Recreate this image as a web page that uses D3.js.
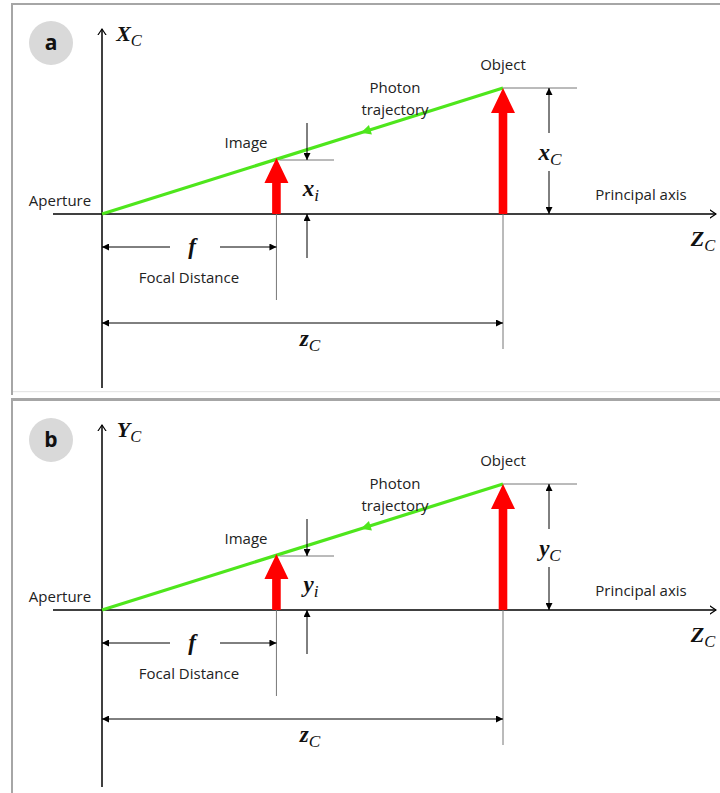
<!DOCTYPE html>
<html>
<head>
<meta charset="utf-8">
<script src="https://cdn.jsdelivr.net/npm/d3@7"></script>
<style>
  body{margin:0;background:#fff}
  .lbl{font-family:"Open Sans",sans-serif;font-size:15px;fill:#222}
  .math{font-family:"Liberation Serif",serif;font-style:italic;font-weight:bold;fill:#111}
</style>
</head>
<body>
<div id="chart"></div>
<script>
// panels and their symbols
const panelNames = ['a', 'b']
const axisNames = ['X', 'Y']
const heightNames = ['x', 'y']

// geometry values (z along principal axis, height above it)
const focalDistance = 1.74
const objectDistance = 4.0
const objectHeight = 1.26
const imageHeight = 0.56
const photonArrowAt = 2.63

const textLabels = {aperture: 'Aperture', image: 'Image', photon: ['Photon', 'trajectory'],
  object: 'Object', axis: 'Principal axis', focal: 'Focal Distance'}

const W = 720, H = 793, panelStep = 396

const svg = d3.select('#chart').append('svg')
  .attr('width', W).attr('height', H)

const defs = svg.append('defs')
defs.append('marker').attr('id', 'dim')
  .attr('viewBox', '0 0 10 10').attr('refX', 10).attr('refY', 5)
  .attr('markerWidth', 9).attr('markerHeight', 7).attr('markerUnits', 'userSpaceOnUse')
  .attr('orient', 'auto-start-reverse')
  .append('path').attr('d', 'M0,0L10,5L0,10z').attr('fill', '#000')
defs.append('marker').attr('id', 'open')
  .attr('viewBox', '0 0 10 12').attr('refX', 9).attr('refY', 6)
  .attr('markerWidth', 7).attr('markerHeight', 11).attr('markerUnits', 'userSpaceOnUse')
  .attr('orient', 'auto')
  .append('path').attr('d', 'M0,0L9,6L0,12').attr('fill', 'none').attr('stroke', '#000').attr('stroke-width', 1.6)
defs.append('marker').attr('id', 'green')
  .attr('viewBox', '0 0 10 10').attr('refX', 5).attr('refY', 5)
  .attr('markerWidth', 14).attr('markerHeight', 10).attr('markerUnits', 'userSpaceOnUse')
  .attr('orient', 'auto')
  .append('path').attr('d', 'M0,0L10,5L0,10z').attr('fill', '#4ee61c')

const z = d3.scaleLinear().domain([0, objectDistance]).range([102, 503])
const h = d3.scaleLinear().domain([0, objectHeight]).range([214, 88])

function mathLabel(g, x, y, main, sub, size) {
  const t = g.append('text').attr('class', 'math').attr('x', x).attr('y', y)
    .attr('text-anchor', 'middle').attr('font-size', size)
  t.append('tspan').text(main)
  t.append('tspan').attr('dy', 5).attr('font-size', size * 0.75).attr('font-weight', 'normal').text(sub)
}

function redArrow(g, zv, hv) {
  const cx = z(zv), y0 = h(0), tip = h(hv)
  const sw = 4.3, hw = 12, hh = 25
  const p = d3.path()
  p.moveTo(cx - sw, y0); p.lineTo(cx - sw, tip + hh); p.lineTo(cx - hw, tip + hh)
  p.lineTo(cx, tip); p.lineTo(cx + hw, tip + hh); p.lineTo(cx + sw, tip + hh)
  p.lineTo(cx + sw, y0); p.closePath()
  g.append('path').attr('d', p.toString()).attr('fill', '#ff0000')
}

function line(g, x1, y1, x2, y2, stroke, w) {
  return g.append('line').attr('x1', x1).attr('y1', y1).attr('x2', x2).attr('y2', y2)
    .attr('stroke', stroke).attr('stroke-width', w)
}

panelNames.forEach((name, i) => {
  const g = svg.append('g').attr('transform', 'translate(0,' + (i * panelStep) + ')')
  const top = i === 0 ? 3 : 398

  // panel frame
  g.append('rect').attr('x', 11).attr('y', top - i * panelStep).attr('width', W).attr('height', i === 0 ? 2 : 3)
    .attr('fill', '#a6a6a6')
  g.append('rect').attr('x', 11).attr('y', top - i * panelStep).attr('width', 2)
    .attr('height', i === 0 ? 392 : 400).attr('fill', '#a6a6a6')
  if (i === 0) {
    g.append('rect').attr('x', 13).attr('y', 391).attr('width', W).attr('height', 1.2).attr('fill', '#e6e6e6')
  }

  // badge
  g.append('circle').attr('cx', 51).attr('cy', 43 + i).attr('r', 22).attr('fill', '#d9d9d9')
  g.append('text').attr('x', 51).attr('y', 50 + i).attr('text-anchor', 'middle')
    .style('font-family', '"Open Sans",sans-serif').style('font-weight', 'bold').style('font-size', '21px')
    .attr('fill', '#111').text(name)

  // axes
  line(g, z(0), i === 0 ? 388 : 391, z(0), 29, '#000', 1.5).attr('marker-end', 'url(#open)')
  line(g, 53, h(0), 716, h(0), '#000', 1.5).attr('marker-end', 'url(#open)')
  mathLabel(g, 129, 41, axisNames[i], 'C', 22)
  mathLabel(g, 703, 246, 'Z', 'C', 22)

  // gray guide lines
  line(g, z(focalDistance), h(0), z(focalDistance), 300, '#777', 1)
  line(g, z(objectDistance), h(0), z(objectDistance), 349, '#777', 1)
  line(g, z(focalDistance) + 3, h(imageHeight) + 2, 334, h(imageHeight) + 2, '#777', 1)
  line(g, z(objectDistance), h(objectHeight), 577, h(objectHeight), '#777', 1)

  // photon trajectory
  g.append('path')
    .attr('d', d3.line()([[z(objectDistance), h(objectHeight)],
      [z(photonArrowAt), h(objectHeight * photonArrowAt / objectDistance)], [z(0), h(0)]]))
    .attr('fill', 'none').attr('stroke', '#4ee61c').attr('stroke-width', 3.2)
    .attr('marker-mid', 'url(#green)')

  redArrow(g, focalDistance, imageHeight)
  redArrow(g, objectDistance, objectHeight)

  // image height dimension
  const xi = 307
  line(g, xi, 123, xi, h(imageHeight) + 2, '#000', 1).attr('marker-end', 'url(#dim)')
  line(g, xi, 258, xi, h(0), '#000', 1).attr('marker-end', 'url(#dim)')
  mathLabel(g, 311, 196, heightNames[i], 'i', 23)

  // object height dimension
  const xo = 549
  line(g, xo, 133, xo, h(objectHeight), '#000', 1).attr('marker-end', 'url(#dim)')
  line(g, xo, 171, xo, h(0), '#000', 1).attr('marker-end', 'url(#dim)')
  mathLabel(g, 550, 160, heightNames[i], 'C', 23)

  // focal distance dimension
  line(g, 170, 247, z(0), 247, '#000', 1).attr('marker-end', 'url(#dim)')
  line(g, 220, 247, z(focalDistance), 247, '#000', 1).attr('marker-end', 'url(#dim)')
  mathLabel(g, 192, 254, 'f', '', 23)
  g.append('text').attr('class', 'lbl').attr('x', 189).attr('y', 283).attr('text-anchor', 'middle').text(textLabels.focal)

  // object distance dimension
  line(g, z(0), 323, z(objectDistance), 323, '#000', 1)
    .attr('marker-start', 'url(#dim)').attr('marker-end', 'url(#dim)')
  mathLabel(g, 310, 346, 'z', 'C', 23)

  // text labels
  g.append('text').attr('class', 'lbl').attr('x', 60).attr('y', 206).attr('text-anchor', 'middle').text(textLabels.aperture)
  g.append('text').attr('class', 'lbl').attr('x', 246).attr('y', 148).attr('text-anchor', 'middle').text(textLabels.image)
  g.append('text').attr('class', 'lbl').attr('x', 395).attr('y', 93).attr('text-anchor', 'middle').text(textLabels.photon[0])
  g.append('text').attr('class', 'lbl').attr('x', 395).attr('y', 115).attr('text-anchor', 'middle').text(textLabels.photon[1])
  g.append('text').attr('class', 'lbl').attr('x', 503).attr('y', 70).attr('text-anchor', 'middle').text(textLabels.object)
  g.append('text').attr('class', 'lbl').attr('x', 641).attr('y', 200).attr('text-anchor', 'middle').text(textLabels.axis)
})
</script>
</body>
</html>
